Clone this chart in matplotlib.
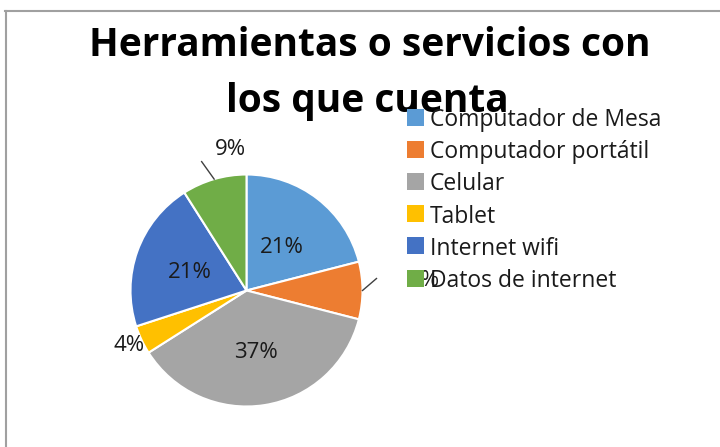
import matplotlib
matplotlib.use('Agg')
import matplotlib.pyplot as plt
import numpy as np
from matplotlib.patches import Rectangle
from matplotlib.lines import Line2D

categories = ['Computador de Mesa', 'Computador portátil', 'Celular',
              'Tablet', 'Internet wifi', 'Datos de internet']
values = [21, 8, 37, 4, 21, 9]
colors = ['#5B9BD5', '#ED7D31', '#A5A5A5', '#FFC000', '#4472C4', '#70AD47']
title_lines = ['Herramientas o servicios con', 'los que cuenta']

W, H = 720, 447
FONT = ['Open Sans', 'DejaVu Sans']
plt.rcParams['font.family'] = FONT

fig = plt.figure(figsize=(W / 100, H / 100), dpi=100)
ax = fig.add_axes([0, 0, 1, 1])

def Y(py):
    return H - py

cx, cy, R = 246.5, Y(290.5), 116
wedges, _ = ax.pie(values, colors=colors, startangle=90, counterclock=False,
                   center=(cx, cy), radius=R,
                   wedgeprops=dict(edgecolor='white', linewidth=1.5))
ax.set_xlim(0, W)
ax.set_ylim(0, H)
ax.set_aspect('auto')
ax.axis('off')

# label placement style: ('in', r_frac) or ('out', label offset px, leader offset px)
label_style = {
    0: ('in', 0.50),
    1: ('out', (62, 12), (14, 12)),
    2: ('in', 0.52),
    3: ('out', (-12, -3.5), None),
    4: ('in', 0.52),
    5: ('out', (16, 32), (-12.5, 17.5)),
}
for i, (w, v) in enumerate(zip(wedges, values)):
    th = np.deg2rad((w.theta1 + w.theta2) / 2)
    st = label_style[i]
    if st[0] == 'in':
        x = cx + st[1] * R * np.cos(th)
        y = cy + st[1] * R * np.sin(th)
    else:
        ex, ey = cx + R * np.cos(th), cy + R * np.sin(th)
        x, y = ex + st[1][0], ey + st[1][1]
        if st[2] is not None:
            ax.add_line(Line2D([ex, ex + st[2][0]], [ey, ey + st[2][1]],
                               color='#404040', lw=1.0, zorder=2))
    ax.text(x, y, f'{v}%', ha='center', va='center_baseline',
            fontsize=16, color='#1a1a1a', zorder=3)

# title
ax.text(370, Y(56), title_lines[0], ha='center', va='baseline',
        fontsize=28, fontweight='bold', color='black', zorder=4)
ax.text(367, Y(112), title_lines[1], ha='center', va='baseline',
        fontsize=28, fontweight='bold', color='black', zorder=4)

# legend (drawn manually, above labels)
lx, ly0, dy, sq = 407, 117, 32.2, 17
for i, (cat, col) in enumerate(zip(categories, colors)):
    yc = ly0 + i * dy
    ax.add_patch(Rectangle((lx, Y(yc) - sq / 2), sq, sq, facecolor=col,
                           edgecolor='none', zorder=6))
    ax.text(lx + sq + 6, Y(yc), cat, ha='left', va='center_baseline',
            fontsize=16.5, color='#1a1a1a', zorder=6)

# chart border (top and left edges visible)
ax.add_line(Line2D([5, W], [Y(10.5), Y(10.5)], color='#a0a0a0', lw=1.5, zorder=1))
ax.add_line(Line2D([6, 6], [Y(10.5), 0], color='#a0a0a0', lw=1.5, zorder=1))

fig.savefig('out.png', dpi=100)
